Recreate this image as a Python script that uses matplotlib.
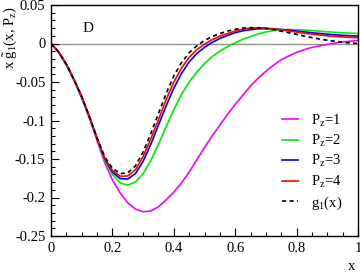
import matplotlib
matplotlib.use("Agg")
import matplotlib.pyplot as plt
from matplotlib.ticker import MultipleLocator

plt.rcParams.update({
    "font.family": "serif",
    "font.serif": ["Liberation Serif"],
    "mathtext.default": "regular",
    "axes.unicode_minus": False,
    "font.size": 10.5,
})

# x grid shared by all curves (step 0.025)
x = [0, 0.025, 0.05, 0.075, 0.1, 0.125, 0.15, 0.175, 0.2, 0.225, 0.25, 0.275, 0.3, 0.325,
     0.35, 0.375, 0.4, 0.425, 0.45, 0.475, 0.5, 0.525, 0.55, 0.575, 0.6, 0.625, 0.65,
     0.675, 0.7, 0.725, 0.75, 0.775, 0.8, 0.825, 0.85, 0.875, 0.9, 0.925, 0.95, 0.975, 1.0]

# x g~_1(x, P_z)
y_p1 = [0, -0.012, -0.028, -0.048, -0.071, -0.097, -0.126, -0.155, -0.177, -0.194, -0.207,
        -0.215, -0.2185, -0.2175, -0.212, -0.203, -0.193, -0.181, -0.167, -0.151, -0.135,
        -0.120, -0.106, -0.092, -0.079, -0.067, -0.055, -0.045, -0.036, -0.028, -0.021,
        -0.016, -0.0115, -0.008, -0.005, -0.003, -0.0012, 0.0005, 0.002, 0.003, 0.004]

y_p2 = [0, -0.011, -0.027, -0.047, -0.069, -0.095, -0.123, -0.152, -0.170, -0.181, -0.184,
        -0.180, -0.169, -0.152, -0.131, -0.108, -0.086, -0.066, -0.050, -0.037, -0.026,
        -0.017, -0.010, -0.004, 0.001, 0.0055, 0.009, 0.0125, 0.015, 0.0168, 0.0178,
        0.0181, 0.018, 0.0175, 0.0168, 0.016, 0.0152, 0.0145, 0.0139, 0.0134, 0.013]

y_p3 = [0, -0.011, -0.027, -0.047, -0.069, -0.095, -0.123, -0.150, -0.167, -0.1755, -0.176,
        -0.169, -0.153, -0.131, -0.106, -0.081, -0.058, -0.039, -0.024, -0.013, -0.005,
        0.0015, 0.0065, 0.0105, 0.014, 0.0165, 0.018, 0.019, 0.0193, 0.019, 0.0183,
        0.0173, 0.0162, 0.0151, 0.014, 0.013, 0.0121, 0.0113, 0.0106, 0.0101, 0.0097]

y_p4 = [0, -0.011, -0.027, -0.047, -0.069, -0.095, -0.123, -0.149, -0.165, -0.1725, -0.172,
        -0.164, -0.147, -0.124, -0.099, -0.073, -0.050, -0.032, -0.018, -0.008, -0.001,
        0.005, 0.0095, 0.013, 0.016, 0.0185, 0.020, 0.0205, 0.020, 0.019, 0.0178,
        0.0163, 0.0148, 0.0133, 0.012, 0.011, 0.0100, 0.0092, 0.0085, 0.008, 0.0075]

y_g1 = [0, -0.011, -0.027, -0.047, -0.069, -0.095, -0.123, -0.147, -0.162, -0.169, -0.168,
        -0.159, -0.141, -0.117, -0.091, -0.065, -0.042, -0.025, -0.012, -0.003, 0.004,
        0.009, 0.013, 0.016, 0.0185, 0.020, 0.0205, 0.0203, 0.0195, 0.018, 0.016,
        0.014, 0.0118, 0.0096, 0.0076, 0.0058, 0.0042, 0.0028, 0.0016, 0.0007, 0.0]

fig = plt.figure(figsize=(3.6, 2.73), dpi=100)
ax = fig.add_axes([51/360, 1 - 236/273, 307/360, 231/273])

ax.axhline(0, color="#909090", lw=1.0, zorder=1)

ax.plot(x, y_p1, color="#ff00ff", lw=1.2, label="P$_z$=1")
ax.plot(x, y_p2, color="#00ee00", lw=1.2, label="P$_z$=2")
ax.plot(x, y_p3, color="#0000ff", lw=1.2, label="P$_z$=3")
ax.plot(x, y_p4, color="#ff0000", lw=1.2, label="P$_z$=4")
ax.plot(x, y_g1, color="black", lw=1.2, ls=(0, (2.5, 2)), label="g$_1$(x)")

ax.set_xlim(0, 1)
ax.set_ylim(-0.25, 0.05)
ax.xaxis.set_minor_locator(MultipleLocator(0.05))
ax.yaxis.set_minor_locator(MultipleLocator(0.01))
ax.set_xticks([0, 0.2, 0.4, 0.6, 0.8, 1.0])
ax.set_xticklabels(["0", "0.2", "0.4", "0.6", "0.8", "1"])
ax.set_yticks([-0.25, -0.2, -0.15, -0.1, -0.05, 0, 0.05])
ax.set_yticklabels(["-0.25", "-0.2", "-0.15", "-0.1", "-0.05", "0", "0.05"])
ax.tick_params(which="both", direction="in", top=False, right=False)
ax.tick_params(which="major", length=6, width=0.8, pad=4)
ax.tick_params(which="minor", length=3, width=0.8)
for s in ax.spines.values():
    s.set_linewidth(1.0)

ax.text(0.12, 0.02, "D", fontsize=11, ha="center", va="center")

fig.text(352/360, 1 - 266/273, "x", ha="center", va="center", fontsize=10.5)
fig.text(11/360, 1 - 38/273, r"x $\tilde{g}_1$(x, P$_z$)", rotation=90,
         ha="center", va="center", fontsize=10.5)

ax.legend(loc="upper left", bbox_to_anchor=(0.752, 0.535), frameon=False,
          borderpad=0, borderaxespad=0, handlelength=1.1, handletextpad=0.9,
          labelspacing=0.3, fontsize=10.5)

fig.savefig("out.png", dpi=100)
